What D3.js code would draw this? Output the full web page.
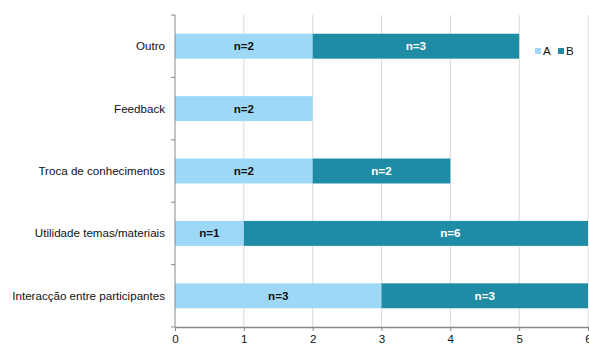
<!DOCTYPE html>
<html>
<head>
<meta charset="utf-8">
<script src="https://cdn.jsdelivr.net/npm/d3@7"></script>
<style>
  html, body { margin: 0; padding: 0; background: #fff; }
  svg { display: block; font-family: "Liberation Sans", Arial, sans-serif; }
</style>
</head>
<body>
<svg id="chart" width="589" height="345"></svg>
<script>
// Categories, top to bottom
const categories = [
  "Outro",
  "Feedback",
  "Troca de conhecimentos",
  "Utilidade temas/materiais",
  "Interacção entre participantes"
];
const seriesNames = ["A", "B"];
const valuesA = [2, 2, 2, 1, 3];
const valuesB = [3, 0, 2, 6, 3];
const xTicks = [0, 1, 2, 3, 4, 5, 6];

const colors = { A: "#9dd9f7", B: "#1f8ca6" };
const labelColors = { A: "#111", B: "#fff" };
const fontSize = 11.6;

const svg = d3.select("#chart");
const W = 589, H = 345;
const plotLeft = 175, plotTop = 15, plotBottom = 327;

const x = d3.scaleLinear().domain([0, 6]).range([plotLeft, plotLeft + 413]);
const y = d3.scaleBand().domain(categories).range([plotTop, plotBottom]).paddingInner(0.6).paddingOuter(0.3);
const yEdges = d3.scaleBand().domain(categories).range([plotTop, plotBottom]);

// vertical gridlines
svg.append("g").selectAll("line").data(xTicks.filter(d => d > 0)).join("line")
  .attr("x1", d => x(d)).attr("x2", d => x(d))
  .attr("y1", plotTop).attr("y2", plotBottom)
  .attr("stroke", "#d9d9d9").attr("stroke-width", 1);

// stacked segments
const rows = categories.map((c, i) => ({ cat: c, A: valuesA[i], B: valuesB[i] }));
const stack = d3.stack().keys(seriesNames)(rows);

svg.append("defs").append("clipPath").attr("id", "plotClip")
  .append("rect").attr("x", x(0)).attr("y", 0).attr("width", x(6) - x(0)).attr("height", H);

const segs = [];
stack.forEach(layer => {
  layer.forEach(d => {
    if (d[1] - d[0] > 0) segs.push({ key: layer.key, cat: d.data.cat, x0: d[0], x1: d[1], v: d[1] - d[0] });
  });
});

svg.append("g").attr("clip-path", "url(#plotClip)")
  .selectAll("rect").data(segs).join("rect")
  .attr("x", d => x(d.x0))
  .attr("y", d => y(d.cat))
  .attr("width", d => x(d.x1) - x(d.x0))
  .attr("height", y.bandwidth())
  .attr("fill", d => colors[d.key]);

svg.append("g").selectAll("text").data(segs).join("text")
  .attr("x", d => x((d.x0 + d.x1) / 2))
  .attr("y", d => y(d.cat) + y.bandwidth() / 2)
  .attr("dy", "0.35em")
  .attr("text-anchor", "middle")
  .attr("font-size", fontSize)
  .attr("font-weight", "bold")
  .attr("fill", d => labelColors[d.key])
  .text(d => "n=" + d.v);

// y axis
const yAxisG = svg.append("g");
yAxisG.append("line").attr("x1", x(0)).attr("x2", x(0)).attr("y1", plotTop).attr("y2", plotBottom)
  .attr("stroke", "#888");
const edges = categories.map(c => yEdges(c)).concat([plotBottom]);
yAxisG.selectAll("line.tk").data(edges).join("line").attr("class", "tk")
  .attr("x1", x(0) - 4).attr("x2", x(0))
  .attr("y1", d => d).attr("y2", d => d).attr("stroke", "#888");
yAxisG.selectAll("text").data(categories).join("text")
  .attr("x", 165)
  .attr("y", d => y(d) + y.bandwidth() / 2)
  .attr("dy", "0.35em")
  .attr("text-anchor", "end")
  .attr("font-size", fontSize)
  .attr("fill", "#111")
  .text(d => d);

// x axis
const xAxis = d3.axisBottom(x).tickValues(xTicks).tickFormat(d3.format("d")).tickSize(4).tickSizeOuter(0);
const xg = svg.append("g").attr("transform", `translate(0,${plotBottom})`).call(xAxis);
xg.select(".domain").attr("stroke", "#888").attr("stroke-width", 1.5);
xg.selectAll(".tick line").attr("stroke", "#888");
xg.selectAll(".tick text").attr("font-size", fontSize).attr("fill", "#111")
  .attr("font-family", "Liberation Sans, Arial, sans-serif").attr("y", 8);

// legend
const legend = svg.append("g");
const legendX = [535, 558];
seriesNames.forEach((s, i) => {
  legend.append("rect").attr("x", legendX[i]).attr("y", 48).attr("width", 6).attr("height", 6).attr("fill", colors[s]);
  legend.append("text").attr("x", legendX[i] + 8).attr("y", 51).attr("dy", "0.35em")
    .attr("font-size", fontSize).attr("fill", "#111").text(s);
});
</script>
</body>
</html>
